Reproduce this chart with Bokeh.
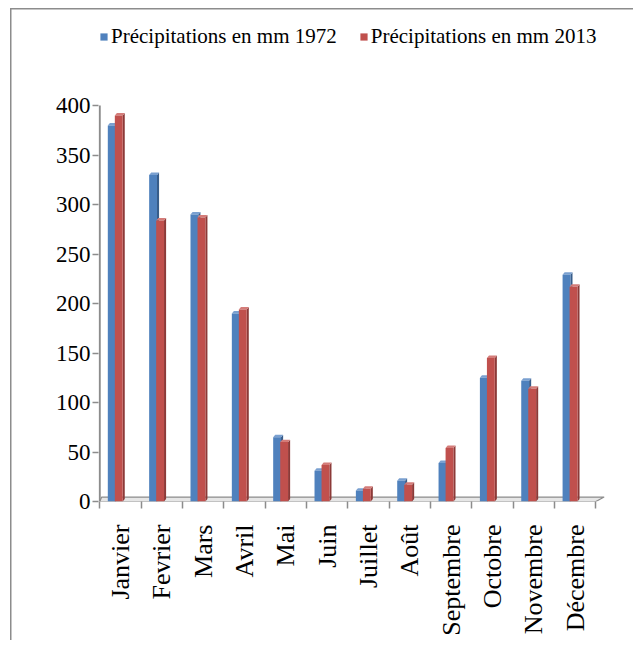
import numpy as np
from bokeh.plotting import figure
from bokeh.models import FixedTicker, Legend, LegendItem
from bokeh.embed import file_html
from bokeh.resources import INLINE

# ---- data ----
months = ["Janvier", "Fevrier", "Mars", "Avril", "Mai", "Juin", "Juillet",
          "Août", "Septembre", "Octobre", "Novembre", "Décembre"]
precip_1972 = [380, 330, 290, 190, 65, 31, 11, 21, 39, 125, 122, 229]
precip_2013 = [390, 284, 287, 194, 60, 37, 13, 17, 54, 145, 114, 217]
series_labels = ["Précipitations en mm 1972", "Précipitations en mm 2013"]
y_ticks = [0, 50, 100, 150, 200, 250, 300, 350, 400]

n = len(months)
idx = np.arange(n)

FONT = "Liberation Serif"
GREY = "#8c8c8c"

# frame: 0..12 categories map to canvas x 99..595 (41.33 px each);
# y 0..400 maps to canvas y 501..105; extra room on top holds the legend
p = figure(width=633, height=640, x_range=(-0.03, n + 0.62), y_range=(0, 488),
           output_backend="svg", toolbar_location=None,
           min_border_left=98, min_border_right=12,
           min_border_top=18, min_border_bottom=139)
p.outline_line_color = None
p.xgrid.grid_line_color = None
p.ygrid.grid_line_color = None
p.background_fill_color = None
p.border_fill_color = None
p.styles = {"box-shadow": "inset 10px 8px 0 0 white, inset 11.5px 9.5px 0 0 #8c8c8c"}

# 3D floor (decoration derived from number of categories)
depth_x, depth_y = 0.12, 4.5
p.patch([0, n, n + depth_x + 0.08, depth_x * 0.4], [0, 0, depth_y, depth_y],
        fill_color="#e6e6e6", line_color=GREY, line_width=1.2)

# y axis line only up to the last tick
p.segment(x0=[0], y0=[y_ticks[0]], x1=[0], y1=[y_ticks[-1]],
          line_color=GREY, line_width=2)

bar_w = 0.19
d_x, d_y = 0.05, 2.5
styles = [
    (precip_1972, 0.29, "#4F81BD", "#385D8A", "#7AA0D0"),
    (precip_2013, 0.46, "#C0504D", "#8C3A38", "#D47C79"),
]
fronts = []
for vals, off, front, side, cap in styles:
    xl = idx + off - bar_w / 2
    xr = idx + off + bar_w / 2
    vals = np.asarray(vals, dtype=float)
    side_xs = [[a, a + d_x, a + d_x, a] for a in xr]
    side_ys = [[0, d_y, v + d_y, v] for v in vals]
    cap_xs = [[a, a + d_x, b + d_x, b] for a, b in zip(xl, xr)]
    cap_ys = [[v, v + d_y, v + d_y, v] for v in vals]
    p.patches(side_xs, side_ys, fill_color=side, line_color=None)
    p.patches(cap_xs, cap_ys, fill_color=cap, line_color=None)
    r = p.vbar(x=idx + off, top=vals, bottom=0, width=bar_w,
               fill_color=front, line_color=None)
    fronts.append(r)

# y axis
ya = p.yaxis[0]
ya.ticker = FixedTicker(ticks=y_ticks)
ya.axis_line_color = None
ya.major_tick_line_color = GREY
ya.major_tick_line_width = 1.5
ya.major_tick_out = 6
ya.major_tick_in = 0
ya.minor_tick_line_color = None
ya.major_label_text_font = FONT
ya.major_label_text_font_size = "23px"
ya.major_label_text_color = "black"
ya.major_label_standoff = 2

# x axis
xa = p.xaxis[0]
xa.ticker = FixedTicker(ticks=[float(i) + 0.5 for i in idx],
                        minor_ticks=[float(i) for i in range(n + 1)])
xa.major_label_overrides = {float(i) + 0.5: m for i, m in zip(idx, months)}
xa.axis_line_color = None
xa.major_tick_line_color = None
xa.major_tick_out = 0
xa.major_tick_in = 0
xa.minor_tick_line_color = GREY
xa.minor_tick_line_width = 1.5
xa.minor_tick_out = 7
xa.minor_tick_in = 0
xa.major_label_orientation = np.pi / 2
xa.major_label_text_font = FONT
xa.major_label_text_font_size = "26px"
xa.major_label_text_color = "black"
xa.major_label_standoff = 16

legend = Legend(items=[LegendItem(label=lbl, renderers=[r])
                       for lbl, r in zip(series_labels, fronts)],
                orientation="horizontal", location=(1, 452))
legend.label_text_font = FONT
legend.label_text_font_size = "21px"
legend.label_text_color = "black"
legend.glyph_width = 9
legend.glyph_height = 9
legend.label_standoff = 3
legend.spacing = 22
legend.padding = 2
legend.margin = 0
legend.border_line_color = None
legend.background_fill_alpha = 0
p.add_layout(legend, "center")

open("out.html", "w").write(file_html(p, INLINE))
